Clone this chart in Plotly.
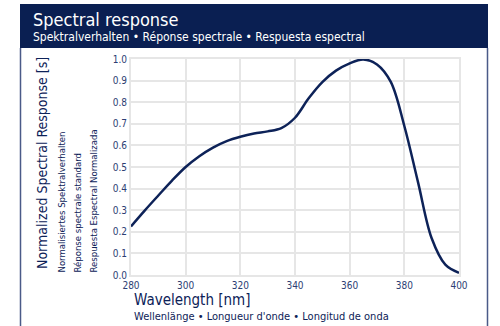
import plotly.graph_objects as go

wavelength = [280, 285, 290, 295, 300, 305, 310, 315, 320, 325, 330, 335, 340,
              345, 350, 355, 360, 365, 370, 375, 380, 385, 390, 395, 400]
response = [0.225, 0.298, 0.368, 0.437, 0.500, 0.550, 0.590, 0.620, 0.640, 0.655, 0.665, 0.680, 0.728,
            0.818, 0.893, 0.946, 0.980, 0.998, 0.975, 0.895, 0.690, 0.430, 0.170, 0.048, 0.010]
x_ticks = [280, 300, 320, 340, 360, 380, 400]
y_ticks = [0.0, 0.1, 0.2, 0.3, 0.4, 0.5, 0.6, 0.7, 0.8, 0.9, 1.0]

NAVY = "#0a1f52"
LINE = "#0d2258"
TICK = "#2c3e73"
GRID = "#e6e6e6"
FONT = "DejaVu Sans Condensed, Roboto, sans-serif"

W, H = 500, 326
def px(x):
    return x / W
def py(y):
    return 1 - y / H

fig = go.Figure()
fig.add_trace(go.Scatter(x=wavelength, y=response, mode="lines",
                         line=dict(color=LINE, width=2.5, shape="spline", smoothing=1.0),
                         hoverinfo="skip", showlegend=False))

tickfont = dict(size=10, color=TICK, family=FONT)
fig.update_layout(
    width=W, height=H, autosize=False,
    margin=dict(l=0, r=0, t=0, b=0, pad=0),
    paper_bgcolor="white", plot_bgcolor="white",
    font=dict(family=FONT, color=TICK),
    xaxis=dict(domain=[px(131), px(459)], range=[280, 400], tickvals=x_ticks,
               ticktext=[str(v) for v in x_ticks], automargin=False,
               showgrid=True, gridcolor=GRID, gridwidth=2,
               showline=True, linecolor=GRID, linewidth=2, mirror=True,
               zeroline=False, ticks="", tickfont=tickfont, fixedrange=True),
    yaxis=dict(domain=[py(275), py(59)], range=[0, 1], tickvals=y_ticks,
               ticktext=["%.1f" % v for v in y_ticks], automargin=False,
               showgrid=True, gridcolor=GRID, gridwidth=2,
               showline=True, linecolor=GRID, linewidth=2, mirror=True,
               zeroline=False, ticks="", tickfont=tickfont, fixedrange=True),
    shapes=[
        dict(type="rect", xref="paper", yref="paper", x0=px(20), x1=px(488),
             y0=py(48), y1=py(4), fillcolor=NAVY, line=dict(width=0), layer="below"),
        dict(type="line", xref="paper", yref="paper", x0=px(20.5), x1=px(20.5),
             y0=py(48), y1=0, line=dict(color="#4a5a88", width=1.5)),
        dict(type="line", xref="paper", yref="paper", x0=px(487.5), x1=px(487.5),
             y0=py(48), y1=0, line=dict(color="#4a5a88", width=1.5)),
    ],
)

ann = []
ann.append(dict(text="Spectral response", x=px(31), y=py(20), xref="paper", yref="paper",
                xanchor="left", yanchor="middle", showarrow=False,
                font=dict(size=18, color="white", family=FONT)))
ann.append(dict(text="Spektralverhalten • Réponse spectrale • Respuesta espectral",
                x=px(31), y=py(37), xref="paper", yref="paper",
                xanchor="left", yanchor="middle", showarrow=False,
                font=dict(size=12, color="white", family=FONT)))
ann.append(dict(text="Normalized Spectral Response [s]", x=px(42), y=py(271),
                xref="paper", yref="paper", xanchor="center", yanchor="bottom",
                textangle=-90, showarrow=False, font=dict(size=14, color=LINE, family=FONT)))
for xc, t in [(61, "Normalisiertes Spektralverhalten"),
              (77, "Réponse spectrale standard"),
              (93, "Respuesta Espectral Normalizada")]:
    ann.append(dict(text=t, x=px(xc), y=py(275), xref="paper", yref="paper",
                    xanchor="center", yanchor="bottom", textangle=-90, showarrow=False,
                    font=dict(size=9.5, color=LINE, family=FONT)))
ann.append(dict(text="Wavelength [nm]", x=px(132), y=py(300), xref="paper", yref="paper",
                xanchor="left", yanchor="middle", showarrow=False,
                font=dict(size=15, color=LINE, family=FONT)))
ann.append(dict(text="Wellenlänge • Longueur d'onde • Longitud de onda", x=px(132), y=py(316),
                xref="paper", yref="paper", xanchor="left", yanchor="middle", showarrow=False,
                font=dict(size=11, color=LINE, family=FONT)))
fig.update_layout(annotations=ann)

fig.write_html("out.html", config={"displayModeBar": False},
               post_script="document.body.style.margin='0';")
